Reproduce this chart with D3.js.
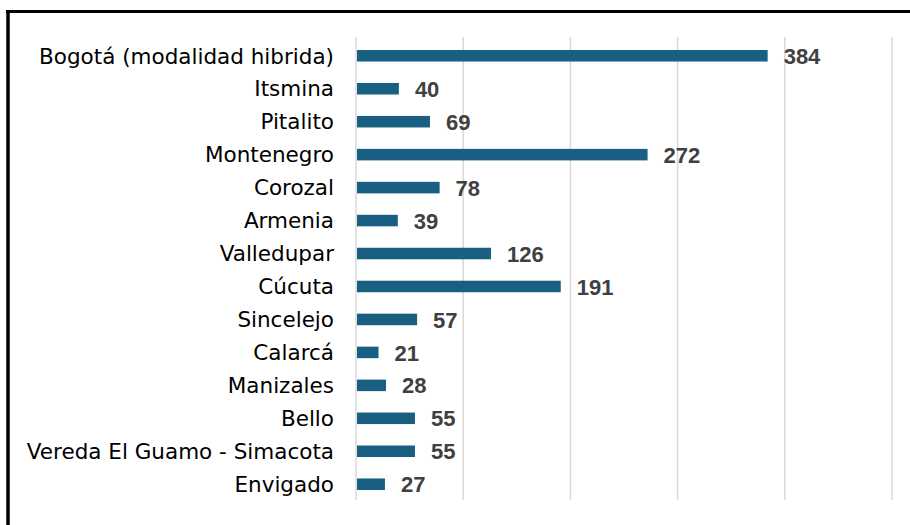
<!DOCTYPE html>
<html>
<head>
<meta charset="utf-8">
<script src="https://cdn.jsdelivr.net/npm/d3@7"></script>
<style>
  body { margin: 0; background: #fff; }
</style>
</head>
<body>
<div id="chart"></div>
<script>
const categories = ["Bogotá (modalidad hibrida)", "Itsmina", "Pitalito", "Montenegro", "Corozal", "Armenia",
    "Valledupar", "Cúcuta", "Sincelejo", "Calarcá", "Manizales", "Bello", "Vereda El Guamo - Simacota", "Envigado"];
const values = [384, 40, 69, 272, 78, 39, 126, 191, 57, 21, 28, 55, 55, 27];
const xTicks = [0, 100, 200, 300, 400, 500];

const W = 910, H = 525;
const margin = {top: 37, right: 18, bottom: 25, left: 356};
const width = W - margin.left - margin.right,
    height = H - margin.top - margin.bottom;

const root = d3.select("#chart").append("svg")
    .attr("width", W)
    .attr("height", H);

// frame (top + left edge only)
root.append("line").attr("x1", 6).attr("x2", W).attr("y1", 11.5).attr("y2", 11.5)
    .attr("stroke", "#000").attr("stroke-width", 3);
root.append("line").attr("x1", 8).attr("x2", 8).attr("y1", 10).attr("y2", H)
    .attr("stroke", "#000").attr("stroke-width", 3.5);

const svg = root.append("g")
    .attr("transform", `translate(${margin.left},${margin.top})`);

const x = d3.scaleLinear().domain([0, 500]).range([0, width]);
const y = d3.scaleBand().domain(categories).range([13, 453]).paddingInner(0.65).paddingOuter(0);

// gridlines
svg.append("g")
    .selectAll("line")
    .data(xTicks)
    .join("line")
        .attr("x1", d => x(d))
        .attr("x2", d => x(d))
        .attr("y1", 0)
        .attr("y2", height)
        .attr("stroke", "#d9d9d9")
        .attr("stroke-width", 1.5);

// bars
svg.append("g")
    .selectAll("rect")
    .data(values)
    .join("rect")
        .attr("x", x(0) + 1)
        .attr("y", (d, i) => y(categories[i]))
        .attr("width", d => x(d) - x(0) - 1)
        .attr("height", y.bandwidth())
        .attr("fill", "#185f81");

// category labels
svg.append("g")
    .selectAll("text")
    .data(categories)
    .join("text")
        .attr("x", -22)
        .attr("y", d => y(d) + y.bandwidth() / 2)
        .attr("dy", "0.36em")
        .attr("text-anchor", "end")
        .style("font-family", "DejaVu Sans, Verdana, sans-serif")
        .style("font-size", "21.5px")
        .style("fill", "#000")
        .text(d => d);

// value labels
svg.append("g")
    .selectAll("text")
    .data(values)
    .join("text")
        .attr("x", d => x(d) + 16)
        .attr("y", (d, i) => y(categories[i]) + y.bandwidth() / 2)
        .attr("dy", "0.37em")
        .style("font-family", "Liberation Sans, Arial, sans-serif")
        .style("font-weight", "bold")
        .style("font-size", "22px")
        .style("fill", "#404040")
        .text(d => d);
</script>
</body>
</html>
